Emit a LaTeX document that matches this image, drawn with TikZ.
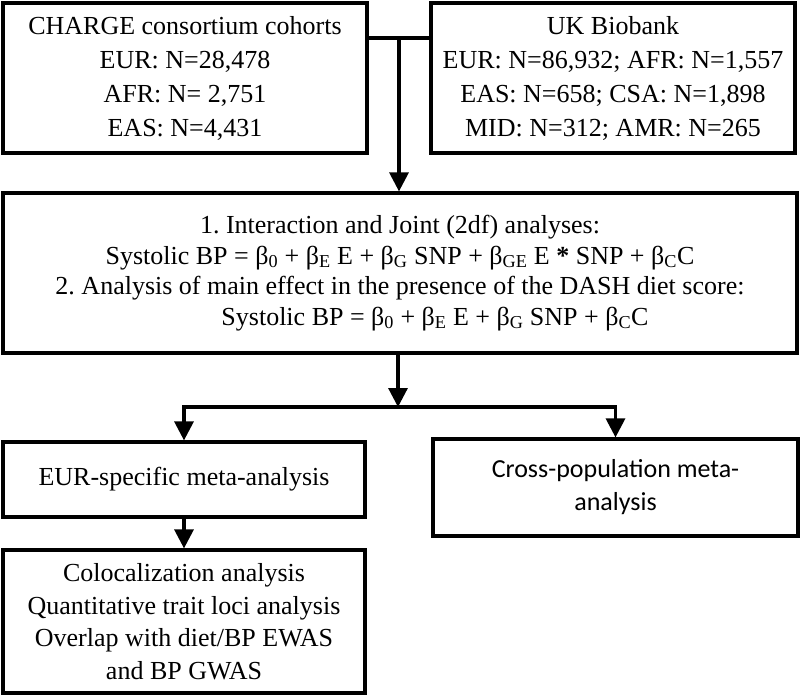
\documentclass[tikz,border=0pt]{standalone}
\usepackage{fontspec}
\setmainfont{Liberation Serif}
\newfontfamily\calibrifont{Carlito}
\usetikzlibrary{arrows.meta,positioning}
\frenchspacing

\newcommand{\betasub}[1]{β\textsubscript{#1}}

\begin{document}
\begin{tikzpicture}[
    x=1pt, y=-1pt,
    box/.style={rectangle, draw, line width=3.2pt, align=center, inner sep=0pt, font=\fontsize{26}{34}\selectfont},
    arrow/.style={-{Triangle[length=19pt,width=19pt]}, line width=3.2pt}
]
\useasboundingbox (0,0) rectangle (800,695);

% Cohort boxes
\node[box, minimum width=364pt, minimum height=150pt] (charge) at (185,78) {CHARGE consortium cohorts\\EUR: N=28,478\\AFR: N= 2,751\\EAS: N=4,431};

\node[box, minimum width=364pt, minimum height=150pt] (ukb) at (613,78) {UK Biobank\\EUR: N=86,932; AFR: N=1,557\\EAS: N=658; CSA: N=1,898\\MID: N=312; AMR: N=265};

% Model box
\node[box, minimum width=794pt, minimum height=160pt, font=\fontsize{26}{30.5}\selectfont] (model) at (400,273) {1. Interaction and Joint (2df) analyses:\\Systolic BP = \betasub{0} + \betasub{E} E + \betasub{G} SNP + \betasub{GE} E {\bfseries *} SNP + \betasub{C}C\\2. Analysis of main effect in the presence of the DASH diet score:\\\hspace*{70pt}Systolic BP = \betasub{0} + \betasub{E} E + \betasub{G} SNP + \betasub{C}C};

% Meta-analysis boxes
\node[box, minimum width=362pt, minimum height=75pt] (eur) at (184,479.5) {EUR-specific meta-analysis};

\node[box, minimum width=365pt, minimum height=97pt, font=\calibrifont\fontsize{26}{33}\selectfont] (cross) at (615.5,487.5) {Cross-population meta-\\analysis};

\node[box, minimum width=362pt, minimum height=143pt, font=\fontsize{26}{32.5}\selectfont] (coloc) at (184,621.5) {Colocalization analysis\\Quantitative trait loci analysis\\Overlap with diet/BP EWAS\\and BP GWAS};

% Arrows
\coordinate (join) at (399,38);
\coordinate (split) at (398,407);
\draw[line width=3.2pt] (charge.east |- join) -- (ukb.west |- join);
\draw[arrow] (join) -- (join |- model.north);
\draw[arrow] (model.south -| split) -- (split);
\draw[arrow] (split) -| (eur);
\draw[arrow] (split) -| (cross);
\draw[arrow] (eur) -- (coloc);

\end{tikzpicture}
\end{document}
